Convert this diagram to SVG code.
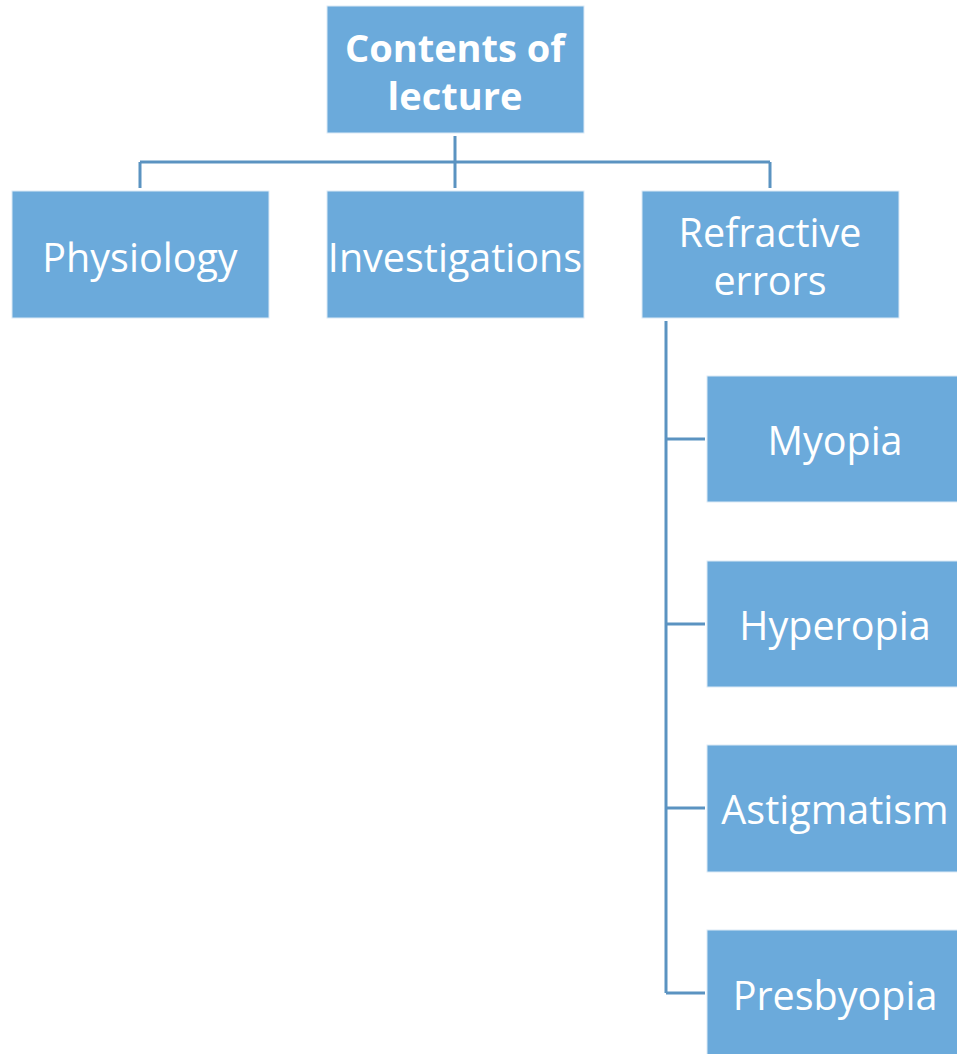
<svg xmlns="http://www.w3.org/2000/svg" width="957" height="1054" viewBox="0 0 957 1054">
<style>
.box{fill:#6BAADB;stroke:#DCEAF6;stroke-width:1}
.lbl{font-family:"Open Sans","Liberation Sans",sans-serif;font-size:39.5px;fill:#FFFFFF;text-anchor:middle;dominant-baseline:central}
.bold{font-weight:bold;font-size:38px}
.conn{fill:none;stroke:#5B93C1;stroke-width:3}
</style>
<rect width="957" height="1054" fill="#FFFFFF"/>
<g id="connectors">
<path class="conn" d="M455 136V188M140 162H770M140 162V188M770 162V188"/>
<path class="conn" d="M666 321V993M666 439H705M666 624H705M666 808H705M666 993H705"/>
</g>
<g id="root">
<rect class="box" x="327" y="6" width="257" height="127"/>
<text class="lbl bold" x="455" y="47">Contents of</text>
<text class="lbl bold" x="455" y="95">lecture</text>
</g>
<g id="physiology">
<rect class="box" x="12" y="191" width="257" height="127"/>
<text class="lbl" x="140" y="257">Physiology</text>
</g>
<g id="investigations">
<rect class="box" x="327" y="191" width="257" height="127"/>
<text class="lbl" x="455" y="257">Investigations</text>
</g>
<g id="refractive">
<rect class="box" x="642" y="191" width="257" height="127"/>
<text class="lbl" x="770" y="232">Refractive</text>
<text class="lbl" x="770" y="280">errors</text>
</g>
<g id="myopia">
<rect class="box" x="707" y="376" width="252" height="126"/>
<text class="lbl" x="835" y="440">Myopia</text>
</g>
<g id="hyperopia">
<rect class="box" x="707" y="561" width="252" height="126"/>
<text class="lbl" x="835" y="625">Hyperopia</text>
</g>
<g id="astigmatism">
<rect class="box" x="707" y="745" width="252" height="127"/>
<text class="lbl" x="835" y="809">Astigmatism</text>
</g>
<g id="presbyopia">
<rect class="box" x="707" y="930" width="252" height="128"/>
<text class="lbl" x="835" y="995">Presbyopia</text>
</g>
</svg>
